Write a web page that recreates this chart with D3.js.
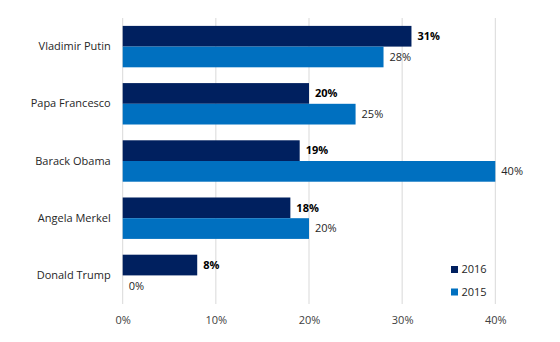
<!DOCTYPE html>
<html><head><meta charset="utf-8">
<script src="https://cdn.jsdelivr.net/npm/d3@7"></script>
<style>body{margin:0;background:#fff;} text{font-family:"Open Sans","Liberation Sans",sans-serif;}</style>
</head><body>
<svg id="c" width="560" height="342"></svg>
<script>
const categories = ["Vladimir Putin","Papa Francesco","Barack Obama","Angela Merkel","Donald Trump"];
const series = ["2016","2015"];
const values2016 = [31,20,19,18,8];
const values2015 = [28,25,40,20,0];
const xTicks = [0,10,20,30,40];
const colors = {"2016":"#00205F","2015":"#0070C0"};

const svg = d3.select("#c");
const m = {left:122.7, right:495.3, top:18, bottom:304};
const x = d3.scaleLinear().domain([0,40]).range([m.left,m.right]);
const y = d3.scaleBand().domain(categories).range([m.top,m.bottom]).paddingInner(0.276).paddingOuter(0.138);
const ys = d3.scaleBand().domain(series).range([0,y.bandwidth()]);

// gridlines
svg.append("g").selectAll("line").data(xTicks).join("line")
  .attr("x1",d=>x(d)).attr("x2",d=>x(d)).attr("y1",m.top).attr("y2",m.bottom)
  .attr("stroke","#d9d9d9").attr("stroke-width",1);

// axis labels
const ax = d3.axisBottom(x).tickValues(xTicks).tickFormat(d=>d+"%").tickSize(0).tickPadding(12);
const gx = svg.append("g").attr("transform",`translate(0,${m.bottom})`).call(ax);
gx.select(".domain").remove();
gx.selectAll("text").attr("font-size",11).attr("fill","#404040").style("font-family","'Open Sans',sans-serif");

const ay = d3.axisLeft(y).tickSize(0).tickPadding(12);
const gy = svg.append("g").attr("transform",`translate(${m.left},0)`).call(ay);
gy.select(".domain").remove();
gy.selectAll("text").attr("font-size",11).attr("fill","#262626").style("font-family","'Open Sans',sans-serif");

const data = categories.map((c,i)=>({c, "2016":values2016[i], "2015":values2015[i]}));

series.forEach(s=>{
  const g = svg.append("g");
  g.selectAll("rect").data(data).join("rect")
    .attr("x",x(0)).attr("y",d=>y(d.c)+ys(s))
    .attr("width",d=>x(d[s])-x(0)).attr("height",ys.bandwidth())
    .attr("fill",colors[s]);
  g.selectAll("text").data(data).join("text")
    .attr("x",d=>x(d[s])+6).attr("y",d=>y(d.c)+ys(s)+ys.bandwidth()/2)
    .attr("dy","0.35em").attr("font-size",11)
    .attr("font-weight",s==="2016"?"bold":"normal")
    .attr("fill",s==="2016"?"#000":"#262626")
    .text(d=>d[s]+"%");
});

// legend
const lg = svg.append("g");
series.forEach((s,i)=>{
  const yy = 266 + i*22.5;
  lg.append("rect").attr("x",451).attr("y",yy).attr("width",7).attr("height",7).attr("fill",colors[s]);
  lg.append("text").attr("x",461.5).attr("y",yy+3.5).attr("dy","0.35em").attr("font-size",11).attr("fill","#262626").text(s);
});
</script>
</body></html>
